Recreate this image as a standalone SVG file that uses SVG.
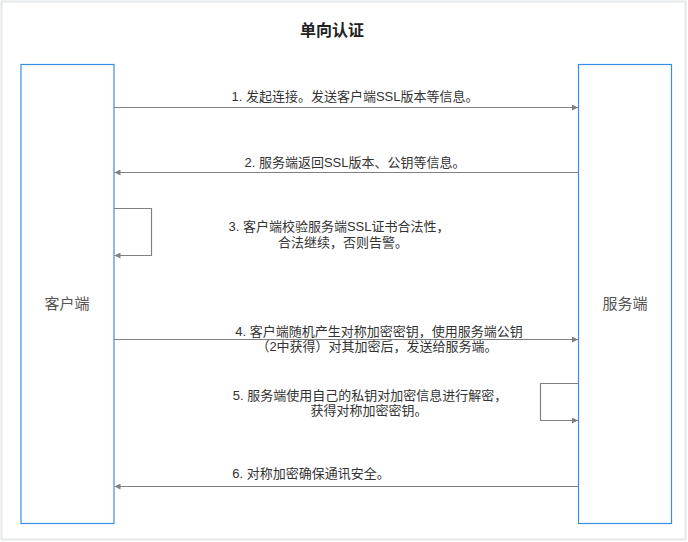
<svg xmlns="http://www.w3.org/2000/svg" width="688" height="542" viewBox="0 0 688 542">
<style>
.frame{fill:#ffffff;stroke:#e3e7e9;stroke-width:2}
.box{fill:#ffffff;stroke:#3a8ee6;stroke-width:1.2}
.lbl{font-family:"Liberation Sans","Noto Sans CJK SC",sans-serif;font-size:13px;fill:#333333;text-anchor:middle}
.node{font-family:"Liberation Sans","Noto Sans CJK SC",sans-serif;font-size:15px;fill:#555555;text-anchor:middle}
.title{font-family:"Liberation Sans","Noto Sans CJK SC",sans-serif;font-size:16px;font-weight:bold;fill:#222222;text-anchor:middle}
.conn{fill:none;stroke:#808080;stroke-width:1.2}
</style>
<defs>
<marker id="arr" viewBox="0 0 10 10" refX="10" refY="5" markerWidth="6" markerHeight="6" orient="auto" markerUnits="userSpaceOnUse">
<path d="M0,0 L10,5 L0,10 z" fill="#808080"/>
</marker>
</defs>
<rect class="frame" x="1.5" y="1.5" width="684" height="538"/>
<text class="title" x="332" y="36">单向认证</text>
<g id="client">
<rect class="box" x="21" y="64.5" width="93" height="459"/>
<text class="node" x="67" y="309">客户端</text>
</g>
<g id="server">
<rect class="box" x="578.5" y="64.5" width="93" height="459"/>
<text class="node" x="625" y="309">服务端</text>
</g>
<g id="connectors">
<path class="conn" d="M114,107.5 H578" marker-end="url(#arr)"/>
<path class="conn" d="M578,172.5 H114.5" marker-end="url(#arr)"/>
<path class="conn" d="M114,208.5 H151.5 V255.5 H114.5" marker-end="url(#arr)"/>
<path class="conn" d="M114,339.5 H578" marker-end="url(#arr)"/>
<path class="conn" d="M578,383.5 H540.5 V420.5 H578" marker-end="url(#arr)"/>
<path class="conn" d="M578,486.5 H114.5" marker-end="url(#arr)"/>
</g>
<g id="labels">
<text class="lbl" x="355" y="101">1. 发起连接。发送客户端SSL版本等信息。</text>
<text class="lbl" x="355" y="167">2. 服务端返回SSL版本、公钥等信息。</text>
<text class="lbl"><tspan x="339" y="231">3. 客户端校验服务端SSL证书合法性，</tspan><tspan x="343" y="247">合法继续，否则告警。</tspan></text>
<text class="lbl"><tspan x="379" y="336">4. 客户端随机产生对称加密密钥，使用服务端公钥</tspan><tspan x="377" y="351">（2中获得）对其加密后，发送给服务端。</tspan></text>
<text class="lbl"><tspan x="370" y="400">5. 服务端使用自己的私钥对加密信息进行解密，</tspan><tspan x="369" y="415">获得对称加密密钥。</tspan></text>
<text class="lbl" x="311" y="478">6. 对称加密确保通讯安全。</text>
</g>
</svg>
